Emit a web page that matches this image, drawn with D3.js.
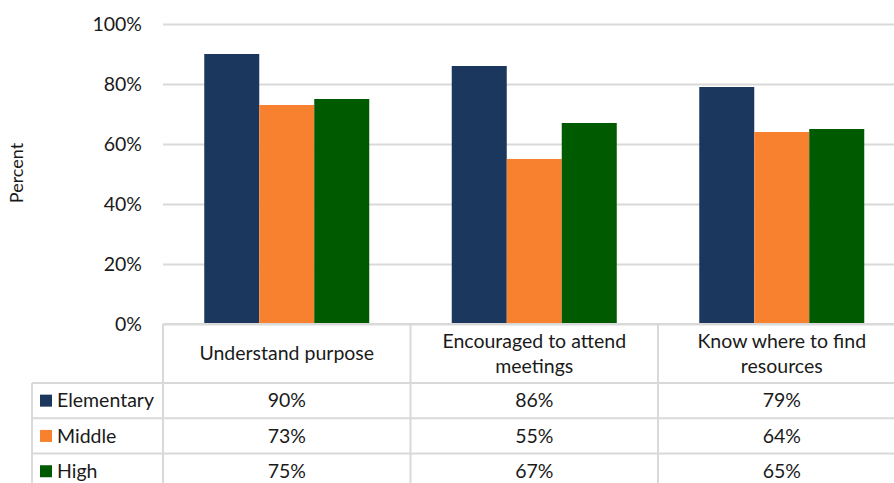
<!DOCTYPE html>
<html>
<head>
<meta charset="utf-8">
<script src="https://cdn.jsdelivr.net/npm/d3@7"></script>
<style>
  html, body { margin: 0; padding: 0; background: #fff; }
  svg { display: block; }
  text { font-family: Lato, "Open Sans", sans-serif; fill: #1a1a1a; }
</style>
</head>
<body>
<svg id="chart" width="894" height="483"></svg>
<script>
// Survey results by school level
const categories = [
  ["Understand purpose"],
  ["Encouraged to attend", "meetings"],
  ["Know where to find", "resources"]
];
const seriesNames = ["Elementary", "Middle", "High"];
const elementary = [90, 86, 79];
const middle = [73, 55, 64];
const high = [75, 67, 65];
const yTicks = [0, 20, 40, 60, 80, 100];
const colors = ["#1b375e", "#f7812f", "#005a00"];

const series = [elementary, middle, high];

const svg = d3.select("#chart");
const plot = { left: 163, right: 905.5, top: 24, bottom: 324 };
const grid = "#d9d9d9";
const fontSize = 19.5;

const x = d3.scaleBand()
  .domain(d3.range(categories.length))
  .range([plot.left, plot.right])
  .paddingInner(0).paddingOuter(0);

const xInner = d3.scaleBand()
  .domain(d3.range(series.length))
  .range([x.bandwidth() / 6, x.bandwidth() * 5 / 6]);

const y = d3.scaleLinear().domain([0, 100]).range([plot.bottom, plot.top]);

// gridlines and tick labels
const yAxis = d3.axisLeft(y).tickValues(yTicks)
  .tickSize(-(plot.right - plot.left))
  .tickPadding(21)
  .tickFormat(d => d + "%");
const gy = svg.append("g").attr("transform", `translate(${plot.left},0)`).call(yAxis);
gy.select(".domain").remove();
gy.selectAll(".tick line").attr("stroke", grid).attr("stroke-width", 2);
gy.selectAll(".tick text")
  .style("font-size", fontSize + "px")
  .attr("fill", "#1a1a1a")
  .style("font-family", "Lato, 'Open Sans', sans-serif");

// axis title
svg.append("text")
  .attr("transform", `translate(23,173) rotate(-90)`)
  .attr("text-anchor", "middle")
  .style("font-size", "18px")
  .text("Percent");

// bars
const groups = svg.append("g").selectAll("g")
  .data(series)
  .join("g")
  .attr("fill", (d, i) => colors[i]);

groups.selectAll("rect")
  .data((d, si) => d.map((v, ci) => ({ v, ci, si })))
  .join("rect")
  .attr("x", d => x(d.ci) + xInner(d.si))
  .attr("width", xInner.bandwidth())
  .attr("y", d => y(d.v))
  .attr("height", d => y(0) - y(d.v));

// data table
const headerBottom = 383;
const rowH = 35.3;
const tableBottom = headerBottom + rowH * series.length;
const legendLeft = 32;
const tbl = svg.append("g").attr("stroke", grid).attr("stroke-width", 2);

// horizontal rules
tbl.append("line").attr("x1", plot.left).attr("x2", plot.right).attr("y1", plot.bottom).attr("y2", plot.bottom);
for (let r = 0; r <= series.length; r++) {
  const yy = headerBottom + r * rowH;
  tbl.append("line").attr("x1", legendLeft).attr("x2", plot.right).attr("y1", yy).attr("y2", yy);
}
// vertical rules
tbl.append("line").attr("x1", legendLeft).attr("x2", legendLeft).attr("y1", headerBottom).attr("y2", tableBottom);
for (let c = 0; c <= categories.length; c++) {
  const xx = plot.left + c * x.bandwidth();
  tbl.append("line").attr("x1", xx).attr("x2", xx).attr("y1", plot.bottom).attr("y2", tableBottom);
}

// category headers
categories.forEach((lines, ci) => {
  const cx = x(ci) + x.bandwidth() / 2;
  const lh = 25;
  const mid = (plot.bottom + headerBottom) / 2;
  const t = svg.append("text")
    .attr("text-anchor", "middle")
    .style("font-size", fontSize + "px");
  lines.forEach((s, li) => {
    t.append("tspan")
      .attr("x", cx)
      .attr("y", mid + (li - (lines.length - 1) / 2) * lh)
      .attr("dy", "0.35em")
      .text(s);
  });
});

// legend keys and values
series.forEach((vals, si) => {
  const cy = headerBottom + si * rowH + rowH / 2;
  svg.append("rect")
    .attr("x", 40).attr("y", cy - 6).attr("width", 12).attr("height", 12)
    .attr("fill", colors[si]);
  svg.append("text")
    .attr("x", 57).attr("y", cy).attr("dy", "0.35em")
    .style("font-size", fontSize + "px")
    .text(seriesNames[si]);
  vals.forEach((v, ci) => {
    svg.append("text")
      .attr("x", x(ci) + x.bandwidth() / 2)
      .attr("y", cy).attr("dy", "0.35em")
      .attr("text-anchor", "middle")
      .style("font-size", fontSize + "px")
      .text(v + "%");
  });
});
</script>
</body>
</html>
